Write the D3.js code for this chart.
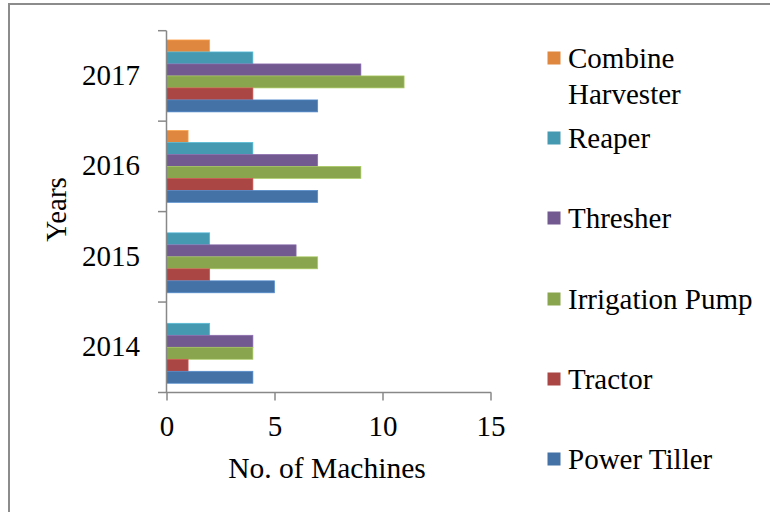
<!DOCTYPE html>
<html><head><meta charset="utf-8">
<script src="https://cdn.jsdelivr.net/npm/d3@7/dist/d3.min.js"></script>
<style>body{margin:0;background:#fff}svg{display:block}</style>
</head><body>
<script>
const years = ["2017", "2016", "2015", "2014"];
const series = ["Combine Harvester", "Reaper", "Thresher", "Irrigation Pump", "Tractor", "Power Tiller"];
const combineHarvester = [2, 1, 0, 0];
const reaper = [4, 4, 2, 2];
const thresher = [9, 7, 6, 4];
const irrigationPump = [11, 9, 7, 4];
const tractor = [4, 4, 2, 1];
const powerTiller = [7, 7, 5, 4];
const xTicks = [0, 5, 10, 15];
const colors = ["#E0873F", "#4599B1", "#72598F", "#89A54E", "#AA4644", "#4472A7"];

const FONT = "'Liberation Serif', 'Times New Roman', Times, serif";
const values = [combineHarvester, reaper, thresher, irrigationPump, tractor, powerTiller];
const W = 770, H = 512;
const svg = d3.select("body").append("svg").attr("width", W).attr("height", H)
  .attr("font-family", FONT);

svg.append("rect").attr("x", 9).attr("y", 4).attr("width", 800).attr("height", 600)
  .attr("fill", "none").attr("stroke", "#8c8c8c").attr("stroke-width", 2);

const x = d3.scaleLinear().domain([0, 15]).range([166.5, 490.5]);
const y = d3.scaleBand().domain(years).range([30.7, 392.5]).paddingInner(0).paddingOuter(0);
const yi = d3.scaleBand().domain(series).range([0, y.bandwidth()]).paddingInner(0).paddingOuter(0.77);

const axisColor = "#888";
// bars
years.forEach((yr, yiIdx) => {
  const g = svg.append("g").attr("transform", `translate(0,${y(yr)})`);
  series.forEach((s, si) => {
    const v = values[si][yiIdx];
    if (v <= 0) return;
    g.append("rect")
      .attr("x", x(0)).attr("y", yi(s))
      .attr("width", x(v) - x(0)).attr("height", yi.bandwidth())
      .attr("fill", colors[si])
      .attr("stroke", d3.color(colors[si]).brighter(0.6)).attr("stroke-width", 0.7);
  });
});

// y axis
const yAxis = svg.append("g");
yAxis.append("line").attr("x1", x(0)).attr("x2", x(0)).attr("y1", y.range()[0]).attr("y2", y.range()[1])
  .attr("stroke", axisColor).attr("stroke-width", 1.5);
const boundaries = years.map(d => y(d)).concat([y.range()[1]]);
boundaries.forEach(b => {
  yAxis.append("line").attr("x1", x(0) - 8.5).attr("x2", x(0)).attr("y1", b).attr("y2", b)
    .attr("stroke", axisColor).attr("stroke-width", 1.5);
});
years.forEach(yr => {
  yAxis.append("text").attr("x", 140).attr("y", y(yr) + y.bandwidth() / 2 + 9)
    .attr("text-anchor", "end").attr("font-size", 29).attr("font-family", FONT).attr("fill", "#000").text(yr);
});

// x axis
const xAxis = svg.append("g").attr("transform", `translate(0,${y.range()[1]})`)
  .call(d3.axisBottom(x).tickValues(xTicks).tickSize(8).tickPadding(12).tickFormat(d3.format("d")));
xAxis.attr("font-family", FONT);
xAxis.select(".domain").attr("stroke", axisColor).attr("stroke-width", 1.5).attr("d", `M${x(0)},0.5V0H${x(15)}V0.5`);
xAxis.selectAll(".tick line").attr("stroke", axisColor).attr("stroke-width", 1.5);
xAxis.selectAll(".tick text").attr("font-size", 29).attr("font-family", FONT)
  .attr("fill", "#000").attr("dy", null).attr("y", 43.5);

svg.append("text").attr("x", 327).attr("y", 478).attr("text-anchor", "middle").attr("font-size", 29.5)
  .attr("font-family", FONT).attr("fill", "#000").text("No. of Machines");
svg.append("text").attr("transform", "translate(66,209.5) rotate(-90)").attr("text-anchor", "middle").attr("font-size", 29)
  .attr("font-family", FONT).attr("fill", "#000").text("Years");

// legend
const legendBase = [68, 148, 228, 309, 389, 469];
series.forEach((s, i) => {
  const g = svg.append("g");
  g.append("rect").attr("x", 547.5).attr("y", legendBase[i] - 16.5).attr("width", 13).attr("height", 13).attr("fill", colors[i]);
  const t = g.append("text").attr("x", 568).attr("y", legendBase[i]).attr("font-size", 29)
    .attr("font-family", FONT).attr("fill", "#000");
  if (s === "Combine Harvester") {
    t.append("tspan").attr("x", 568).text("Combine");
    t.append("tspan").attr("x", 568).attr("dy", 36).text("Harvester");
  } else t.text(s);
});
</script>
</body></html>
